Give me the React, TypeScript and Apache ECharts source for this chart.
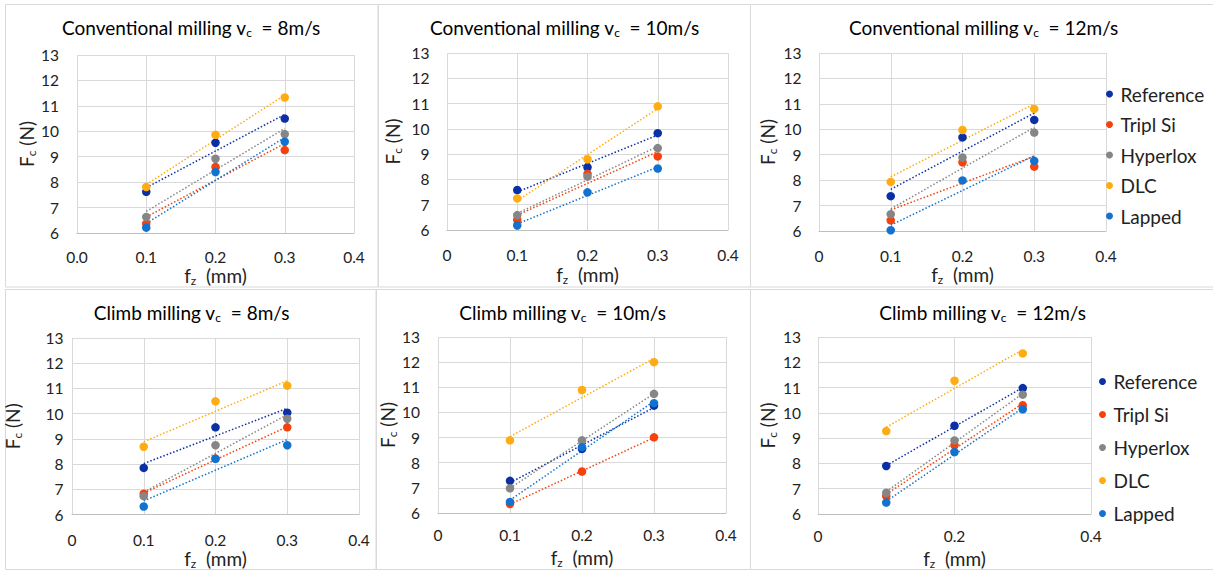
import React, { useEffect, useRef } from 'react';
import * as echarts from 'echarts';

// ---------- data ----------
const fz = [0.1, 0.2, 0.3];
const seriesNames = ['Reference', 'Tripl Si', 'Hyperlox', 'DLC', 'Lapped'];
const seriesColors = ['#0b2fa6', '#f5420c', '#868686', '#ffab12', '#1272cf'];

// rows follow seriesNames, columns follow fz
const convVc8 = [
  [7.62, 9.55, 10.5],
  [6.37, 8.6, 9.26],
  [6.63, 8.92, 9.89],
  [7.81, 9.86, 11.33],
  [6.21, 8.4, 9.59],
];
const convVc10 = [
  [7.58, 8.48, 9.83],
  [6.4, 8.22, 8.91],
  [6.59, 8.11, 9.24],
  [7.25, 8.8, 10.89],
  [6.18, 7.49, 8.43],
];
const convVc12 = [
  [7.37, 9.68, 10.37],
  [6.42, 8.7, 8.53],
  [6.66, 8.89, 9.87],
  [7.93, 9.97, 10.8],
  [6.03, 7.99, 8.76],
];
const climbVc8 = [
  [7.85, 9.46, 10.04],
  [6.83, 8.22, 9.46],
  [6.73, 8.75, 9.8],
  [8.69, 10.49, 11.11],
  [6.32, 8.21, 8.75],
];
const climbVc10 = [
  [7.28, 8.55, 10.27],
  [6.36, 7.65, 9.01],
  [6.98, 8.89, 10.74],
  [8.89, 10.89, 12.0],
  [6.44, 8.62, 10.37],
];
const climbVc12 = [
  [7.9, 9.49, 10.98],
  [6.71, 8.72, 10.3],
  [6.84, 8.91, 10.72],
  [9.28, 11.27, 12.35],
  [6.45, 8.45, 10.14],
];

const panelModes = ['Conventional milling', 'Conventional milling', 'Conventional milling', 'Climb milling', 'Climb milling', 'Climb milling'];
const panelSpeeds = ['8m/s', '10m/s', '12m/s', '8m/s', '10m/s', '12m/s'];
const yTicks = [6, 7, 8, 9, 10, 11, 12, 13];
const xTicksFine = [0, 0.1, 0.2, 0.3, 0.4];
const xTicksCoarse = [0, 0.2, 0.4];

// ---------- layout ----------
const panelValues = [convVc8, convVc10, convVc12, climbVc8, climbVc10, climbVc12];
const panelXTicks = [xTicksFine, xTicksFine, xTicksFine, xTicksFine, xTicksFine, xTicksCoarse];
const grids = [
  { left: 77, top: 55, width: 277, height: 178 },
  { left: 447, top: 53, width: 281, height: 177 },
  { left: 819, top: 53, width: 287, height: 178 },
  { left: 72, top: 338, width: 287, height: 177 },
  { left: 438, top: 337, width: 288, height: 176 },
  { left: 818, top: 337, width: 273, height: 177 },
];
const titlePos = [
  [191, 27], [564.5, 27], [983.5, 27], [191.5, 312], [562.5, 312], [982.5, 312],
];
const yLabelMargin = [18, 17.5, 17.5, 8.5, 18, 17];
const yNameGap = [38, 44, 41, 49, 35.5, 40];
const xLabelMargin = [16, 17, 16.5, 17, 14, 14];
const xNameGap = [30, 33, 32, 32, 33, 33];
const panelBoxes = [
  [5.5, 4.5, 372.5, 282.5],
  [378.5, 4.5, 372, 282.5],
  [750.5, 4.5, 470, 282.5],
  [5.5, 289.5, 370.5, 280],
  [376.5, 289.5, 374, 280],
  [750.5, 289.5, 470, 280],
];

const FONT = 'Lato';
const TXT = '#222222';

const subRich = (size: number) => ({
  a: { fontSize: size, fontFamily: FONT, color: TXT, lineHeight: 22, verticalAlign: 'middle' as const },
  s: { fontSize: Math.round(size * 0.64), fontFamily: FONT, color: TXT, lineHeight: 10, verticalAlign: 'bottom' as const },
});

function trend(xs: number[], ys: number[]) {
  const n = xs.length;
  const mx = xs.reduce((p, c) => p + c, 0) / n;
  const my = ys.reduce((p, c) => p + c, 0) / n;
  let sxy = 0;
  let sxx = 0;
  for (let i = 0; i < n; i++) {
    sxy += (xs[i] - mx) * (ys[i] - my);
    sxx += (xs[i] - mx) * (xs[i] - mx);
  }
  const b = sxy / sxx;
  const a = my - b * mx;
  const x0 = Math.min(...xs);
  const x1 = Math.max(...xs);
  return [[x0, a + b * x0], [x1, a + b * x1]];
}

function buildOption() {
  const xAxis: any[] = [];
  const yAxis: any[] = [];
  const series: any[] = [];
  const graphic: any[] = [];

  panelBoxes.forEach(([x, y, w, h]) => {
    graphic.push({
      type: 'rect', silent: true, z: -10,
      shape: { x, y, width: w, height: h },
      style: { fill: 'none', stroke: '#d9d9d9', lineWidth: 1 },
    });
  });

  panelValues.forEach((vals, i) => {
    const xt = panelXTicks[i];
    graphic.push({
      type: 'text',
      x: titlePos[i][0],
      y: titlePos[i][1],
      style: {
        text: `{a|${panelModes[i]} v}{s|c}{a|  = ${panelSpeeds[i]}}`,
        rich: subRich(19),
        align: 'center',
        verticalAlign: 'middle',
      },
    });
    xAxis.push({
      type: 'value',
      gridIndex: i,
      min: xt[0],
      max: xt[xt.length - 1],
      interval: xt[1] - xt[0],
      axisLine: { show: true, onZero: false, lineStyle: { color: '#bfbfbf', width: 1 } },
      axisTick: { show: false },
      splitLine: { show: true, lineStyle: { color: '#d9d9d9', width: 1 } },
      axisLabel: {
        margin: xLabelMargin[i],
        fontSize: 15.5,
        fontFamily: FONT,
        color: TXT,
        formatter: (v: number) => (i === 0 ? v.toFixed(1) : v === 0 ? '0' : v.toFixed(1)),
      },
      name: '{a|f}{s|z}{a|  (mm)}',
      nameLocation: 'middle',
      nameGap: xNameGap[i],
      nameTextStyle: { rich: subRich(19) },
    });
    yAxis.push({
      type: 'value',
      gridIndex: i,
      min: yTicks[0],
      max: yTicks[yTicks.length - 1],
      interval: yTicks[1] - yTicks[0],
      axisLine: { show: false },
      axisTick: { show: false },
      splitLine: { show: true, lineStyle: { color: '#d9d9d9', width: 1 } },
      axisLabel: { margin: yLabelMargin[i], fontSize: 15.5, fontFamily: FONT, color: TXT },
      name: '{a|F}{s|c}{a| (N)}',
      nameLocation: 'middle',
      nameRotate: 90,
      nameGap: yNameGap[i],
      nameTextStyle: { rich: subRich(19) },
    });
    vals.forEach((row, j) => {
      series.push({
        type: 'line',
        name: seriesNames[j] + ' trend',
        xAxisIndex: i,
        yAxisIndex: i,
        data: trend(fz, row),
        symbol: 'none',
        silent: true,
        z: 2,
        lineStyle: { color: seriesColors[j], width: 1.5, type: [1.5, 2] },
      });
      series.push({
        type: 'scatter',
        name: seriesNames[j],
        xAxisIndex: i,
        yAxisIndex: i,
        data: fz.map((x, k) => [x, row[k]]),
        symbol: 'circle',
        symbolSize: 8.5,
        z: 3,
        itemStyle: { color: seriesColors[j], opacity: 1 },
      });
    });
  });

  const legendBase = {
    orient: 'vertical',
    icon: 'circle',
    itemWidth: 12,
    itemHeight: 7,
    padding: 0,
    selectedMode: false,
    data: seriesNames,
    textStyle: { fontSize: 19, fontFamily: FONT, color: TXT, lineHeight: 22 },
  };

  return {
    animation: false,
    backgroundColor: '#ffffff',
    grid: grids.map((g) => ({ ...g, containLabel: false })),
    xAxis,
    yAxis,
    series,
    graphic,
    legend: [
      { ...legendBase, left: 1106, top: 83, itemGap: 8.5 },
      { ...legendBase, left: 1099, top: 370.5, itemGap: 11 },
    ],
  };
}

export default function App() {
  const ref = useRef<HTMLDivElement>(null);
  useEffect(() => {
    if (!ref.current) return;
    const chart = echarts.init(ref.current, undefined, { renderer: 'svg' });
    chart.setOption(buildOption() as any);
    return () => chart.dispose();
  }, []);
  return (
    <div
      ref={ref}
      style={{ position: 'absolute', left: 0, top: 0, width: 1213, height: 570, background: '#fff' }}
    />
  );
}
